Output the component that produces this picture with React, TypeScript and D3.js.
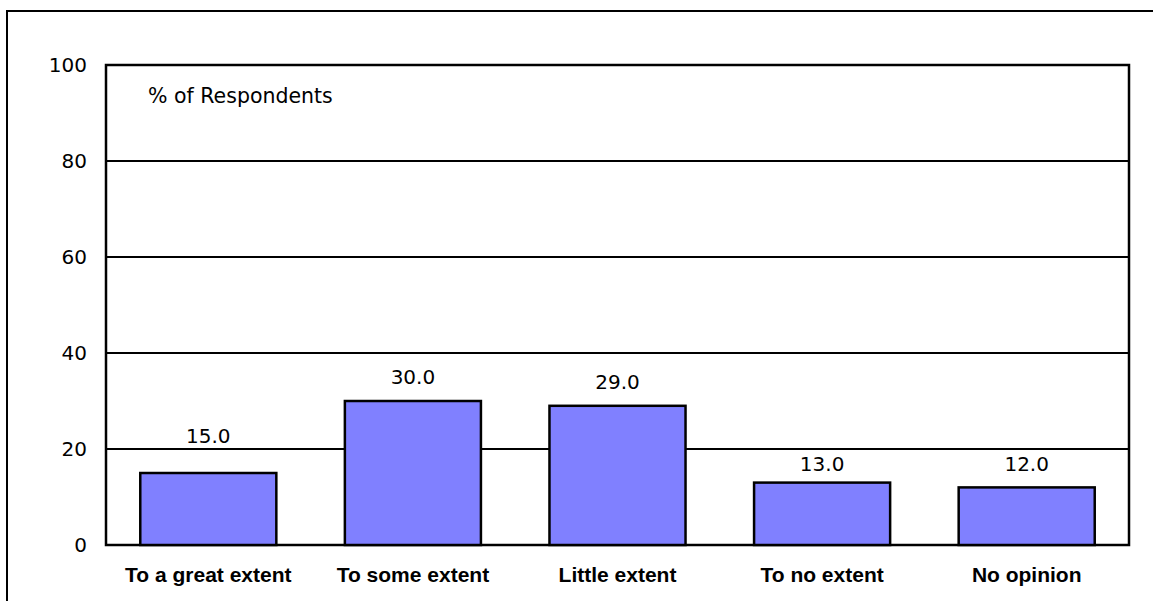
import React from "react";
import * as d3 from "d3";

const categories = ["To a great extent", "To some extent", "Little extent", "To no extent", "No opinion"];
const values = [15.0, 30.0, 29.0, 13.0, 12.0];
const yTicks = [0, 20, 40, 60, 80, 100];
const axisTitle = "% of Respondents";

const W = 1153;
const H = 601;
const plot = { left: 106, top: 65, right: 1129, bottom: 545 };
const numFont = "'DejaVu Sans', Verdana, sans-serif";
const catFont = "'Liberation Sans', Arial, sans-serif";
const capHeight = 14.5;

export default function App() {
  const x = d3
    .scaleBand<string>()
    .domain(categories)
    .range([plot.left, plot.right])
    .paddingInner(0.335)
    .paddingOuter(0.1675);
  const y = d3.scaleLinear().domain([0, 100]).range([plot.bottom, plot.top]);

  // Value labels sit above the bar, but are moved to clear the horizontal gridlines.
  const labelBaseline = (v: number) => {
    const top = y(v);
    let base = top - 17;
    for (const t of yTicks) {
      const g = y(t);
      if (base > g && base - capHeight < g + 7) {
        const below = g + 7 + capHeight;
        base = below <= top - 9 ? below : g - 6;
      }
    }
    return base;
  };

  return (
    <svg
      width={W}
      height={H}
      style={{ position: "absolute", left: 0, top: 0, background: "#fff" }}
    >
      {/* outer frame */}
      <rect x={7} y={11} width={W + 20} height={H + 20} fill="none" stroke="#000" strokeWidth={2} />

      {/* gridlines */}
      {yTicks.slice(1, -1).map((t) => (
        <line key={t} x1={plot.left} x2={plot.right} y1={y(t)} y2={y(t)} stroke="#000" strokeWidth={2} />
      ))}

      {/* plot frame */}
      <rect
        x={plot.left}
        y={plot.top}
        width={plot.right - plot.left}
        height={plot.bottom - plot.top}
        fill="none"
        stroke="#000"
        strokeWidth={2.5}
      />

      {/* y tick labels */}
      {yTicks.map((t) => (
        <text
          key={t}
          x={87}
          y={y(t)}
          textAnchor="end"
          dominantBaseline="central"
          fontFamily={numFont}
          fontSize={20}
          fill="#000"
        >
          {t}
        </text>
      ))}

      <text x={148} y={103} fontFamily={numFont} fontSize={20.5} fill="#000">
        {axisTitle}
      </text>

      {/* bars */}
      {categories.map((c, i) => (
        <rect
          key={c}
          x={x(c)!}
          y={y(values[i])}
          width={x.bandwidth()}
          height={y(0) - y(values[i])}
          fill="#8080FF"
          stroke="#000"
          strokeWidth={2.5}
        />
      ))}

      {/* value labels */}
      {categories.map((c, i) => (
        <text
          key={c}
          x={x(c)! + x.bandwidth() / 2}
          y={labelBaseline(values[i])}
          textAnchor="middle"
          fontFamily={numFont}
          fontSize={20}
          fill="#000"
        >
          {values[i].toFixed(1)}
        </text>
      ))}

      {/* category labels */}
      {categories.map((c) => (
        <text
          key={c}
          x={x(c)! + x.bandwidth() / 2}
          y={582}
          textAnchor="middle"
          fontFamily={catFont}
          fontWeight="bold"
          fontSize={21}
          fill="#000"
        >
          {c}
        </text>
      ))}
    </svg>
  );
}
